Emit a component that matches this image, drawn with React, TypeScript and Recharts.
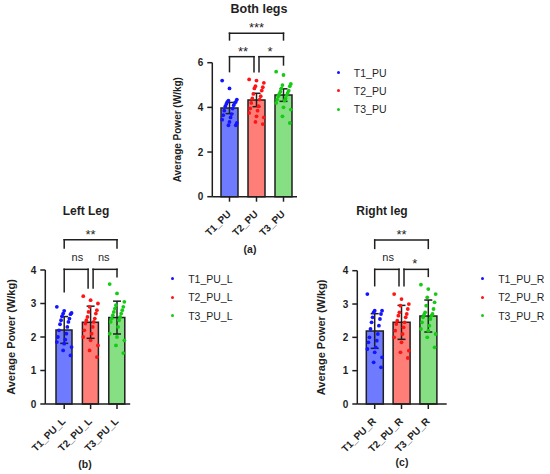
import React from "react";
import { Bar, Cell, ComposedChart, ErrorBar, Legend, ReferenceLine, Scatter, XAxis, YAxis } from "recharts";

const FONT = "'Liberation Sans', Arial, Helvetica, sans-serif";
const INK = "#1f1f1f";
const BAR_FILLS = ["#6e7bff", "#ff7e78", "#86df82"];
const DOT_FILLS = ["#1414ff", "#ff1414", "#14cc14"];

// (a) Both legs
const bothGroups = ["T1_PU", "T2_PU", "T3_PU"];
const bothMean = [3.97, 4.33, 4.55];
const bothErr = [0.25, 0.3, 0.28];
const bothT1 = [5.2, 4.85, 4.35, 4.3, 4.25, 4.25, 4.2, 4.15, 4.1, 4.05, 3.95, 3.85, 3.7, 3.65, 3.55, 3.45, 3.35, 3.3, 3.2, 3.2];
const bothT2 = [5.25, 5.2, 5.1, 4.95, 4.9, 4.85, 4.75, 4.6, 4.5, 4.4, 4.35, 4.2, 4.05, 3.95, 3.85, 3.75, 3.6, 3.55, 3.35, 3.25];
const bothT3 = [5.6, 5.45, 5.05, 5.0, 4.95, 4.85, 4.75, 4.7, 4.65, 4.6, 4.55, 4.5, 4.4, 4.35, 4.3, 4.2, 4.0, 3.9, 3.6, 3.3];
const bothTicks = [0, 2, 4, 6];
const bothSig = [
  { from: "T1_PU", to: "T3_PU", y: 7.32, legs: [7.02, 7.02], text: "***" },
  { from: "T1_PU", to: "T2_PU", y: 6.27, legs: [5.6, 5.6], text: "**" },
  { from: "T2_PU", to: "T3_PU", y: 6.27, legs: [5.6, 5.9], text: "*" },
];

// (b) Left leg
const leftGroups = ["T1_PU_L", "T2_PU_L", "T3_PU_L"];
const leftMean = [2.21, 2.44, 2.58];
const leftErr = [0.4, 0.48, 0.49];
const leftT1 = [2.9, 2.78, 2.72, 2.7, 2.68, 2.62, 2.55, 2.5, 2.45, 2.38, 2.3, 2.2, 2.1, 2.0, 1.92, 1.85, 1.8, 1.7, 1.6, 1.45];
const leftT2 = [3.22, 3.1, 3.0, 2.9, 2.8, 2.75, 2.7, 2.6, 2.55, 2.5, 2.45, 2.4, 2.3, 2.2, 2.1, 2.0, 1.9, 1.75, 1.6, 1.4];
const leftT3 = [3.58, 3.3, 3.05, 2.95, 2.9, 2.85, 2.8, 2.75, 2.7, 2.65, 2.6, 2.55, 2.5, 2.45, 2.3, 2.1, 2.0, 1.9, 1.75, 1.52];
const legTicks = [0, 1, 2, 3, 4];
const leftSig = [
  { from: "T1_PU_L", to: "T3_PU_L", y: 4.9, legs: [4.66, 4.66], text: "**" },
  { from: "T1_PU_L", to: "T2_PU_L", y: 4.02, legs: [3.35, 3.46], text: "ns" },
  { from: "T2_PU_L", to: "T3_PU_L", y: 4.02, legs: [3.46, 3.8], text: "ns" },
];

// (c) Right leg
const rightGroups = ["T1_PU_R", "T2_PU_R", "T3_PU_R"];
const rightMean = [2.19, 2.45, 2.64];
const rightErr = [0.52, 0.51, 0.48];
const rightT1 = [3.3, 2.8, 2.8, 2.75, 2.7, 2.6, 2.55, 2.45, 2.35, 2.25, 2.1, 2.0, 1.9, 1.85, 1.7, 1.65, 1.55, 1.4, 1.25, 1.1];
const rightT2 = [3.3, 3.15, 3.0, 2.95, 2.85, 2.75, 2.7, 2.65, 2.6, 2.5, 2.45, 2.4, 2.3, 2.2, 2.1, 2.0, 1.85, 1.6, 1.55, 1.38];
const rightT3 = [3.58, 3.45, 3.3, 3.2, 3.05, 2.95, 2.85, 2.75, 2.7, 2.68, 2.65, 2.6, 2.55, 2.45, 2.35, 2.25, 2.2, 2.1, 2.0, 1.7];
const rightSig = [
  { from: "T1_PU_R", to: "T3_PU_R", y: 4.92, legs: [4.67, 4.67], text: "**" },
  { from: "T1_PU_R", to: "T2_PU_R", y: 4.04, legs: [3.55, 3.55], text: "ns" },
  { from: "T2_PU_R", to: "T3_PU_R", y: 4.04, legs: [3.55, 3.83], text: "*" },
];

const X_H = 40;

const layoutA = {
  left: 130, top: 0, width: 280, height: 250,
  margin: { top: 62.7, right: 113, bottom: 13.3, left: 32.3 },
  yWidth: 50, pad: { left: 3.7, right: 0 }, barSize: 17,
  labelGap: 35, labelSize: 10,
  legend: { left: 206.8, top: 63.5, row: 18.3 },
};
const layoutB = {
  left: 0, top: 200, width: 240, height: 274,
  margin: { top: 70, right: 109.8, bottom: 30, left: 5.3 },
  yWidth: 40, pad: { left: 5.7, right: 0 }, barSize: 16,
  labelGap: 34, labelSize: 11,
  legend: { left: 171.2, top: 69.7, row: 18.5 },
};
const layoutC = {
  left: 300, top: 200, width: 250, height: 274,
  margin: { top: 70.7, right: 103.3, bottom: 30, left: 17.3 },
  yWidth: 40, pad: { left: 4, right: 5 }, barSize: 17,
  labelGap: 36, labelSize: 11,
  legend: { left: 181.2, top: 69.7, row: 18.5 },
};

const captions = [
  { text: "Both legs", x: 259, y: 9, size: 12.5 },
  { text: "Left Leg", x: 86, y: 211, size: 12 },
  { text: "Right leg", x: 382, y: 211, size: 12 },
  { text: "(a)", x: 250, y: 249, size: 10.5 },
  { text: "(b)", x: 85, y: 464, size: 10.5 },
  { text: "(c)", x: 402, y: 462, size: 10.5 },
];

const jitterDot = (p: any) => {
  const k = p.payload?.k ?? p.index ?? 0;
  const dx = (((k * 7) % 15) - 7) * 1.05;
  return <circle cx={p.cx + dx} cy={p.cy} r={1.9} fill={p.fill} />;
};

const noShape = () => <g />;

const XTick = (p: any) => {
  const ax = p.x + 2;
  const ay = p.y + 11;
  return (
    <text x={ax} y={ay} transform={`rotate(-45 ${ax} ${ay})`} textAnchor="end" fontSize={10} fontWeight={700} fill={INK}>
      {p.payload.value}
    </text>
  );
};

const AxisTitle = ({ px, py, size }: any) => (
  <text x={px} y={py} transform={`rotate(-90 ${px} ${py})`} textAnchor="middle" dominantBaseline="central" fontSize={size} fontWeight={700} fill={INK}>
    Average Power (W/kg)
  </text>
);

const LegendList = ({ payload, row }: any) => (
  <div>
    {(payload || [])
      .filter((e: any) => e.type !== "none")
      .map((e: any) => (
        <div key={e.value} style={{ position: "relative", height: row, width: 70 }}>
          <span style={{ position: "absolute", left: 0, top: row / 2 - 1.5, width: 3, height: 3, borderRadius: "50%", background: e.color }} />
          <span style={{ position: "absolute", left: 17, top: 0, lineHeight: `${row}px`, fontSize: 10.5, color: INK, whiteSpace: "nowrap" }}>
            {e.value}
          </span>
        </div>
      ))}
  </div>
);

function bracket(s: any, groups: string[], n: number) {
  const i = groups.indexOf(s.from);
  const j = groups.indexOf(s.to);
  const adjacent = j - i === 1;
  const inL = adjacent && i > 0 ? 2.5 : 0;
  const inR = adjacent && j < groups.length - 1 ? -2.5 : 0;
  const stars = s.text !== "ns";
  const seg = (key: string, a: any, b: any, sa: number, sb: number, label?: any) => (
    <ReferenceLine
      key={key}
      segment={[a, b]}
      ifOverflow="visible"
      stroke={INK}
      strokeWidth={1.5}
      label={label}
      shape={(p: any) => (
        <line x1={p.x1 + sa} y1={p.y1} x2={p.x2 + sb} y2={p.y2} stroke={INK} strokeWidth={1.5} strokeLinecap="square" />
      )}
    />
  );
  return [
    seg(`h${n}`, { x: s.from, y: s.y }, { x: s.to, y: s.y }, inL, inR, {
      value: s.text,
      position: "top",
      offset: stars ? 1 : 8,
      fontSize: stars ? 13 : 11,
      fill: INK,
    }),
    seg(`l${n}`, { x: s.from, y: s.y }, { x: s.from, y: s.legs[0] }, inL, inL),
    seg(`r${n}`, { x: s.to, y: s.y }, { x: s.to, y: s.legs[1] }, inR, inR),
  ];
}

function Panel({ groups, means, errs, dots, ticks, sig, lay }: any) {
  const bars = groups.map((g: string, i: number) => ({ g, mean: means[i], err: errs[i] }));
  const plotLeft = lay.margin.left + lay.yWidth;
  const plotMidY = lay.margin.top + (lay.height - lay.margin.top - lay.margin.bottom - X_H) / 2;
  const axisStyle = { stroke: INK, strokeWidth: 1.5 };
  return (
    <div style={{ position: "absolute", left: lay.left, top: lay.top }}>
      <ComposedChart width={lay.width} height={lay.height} data={bars} margin={lay.margin}>
        <XAxis
          dataKey="g"
          type="category"
          allowDuplicatedCategory={false}
          padding={lay.pad}
          height={X_H}
          interval={0}
          tickSize={5}
          tick={<XTick />}
          axisLine={axisStyle}
          tickLine={axisStyle}
        />
        <YAxis
          type="number"
          domain={[0, ticks[ticks.length - 1]]}
          ticks={ticks}
          interval={0}
          width={lay.yWidth}
          tickSize={5}
          tickMargin={4}
          tick={{ fill: INK, fontSize: 10, fontWeight: 700 }}
          axisLine={axisStyle}
          tickLine={axisStyle}
          label={<AxisTitle px={plotLeft - lay.labelGap} py={plotMidY} size={lay.labelSize} />}
        />
        <Bar dataKey="mean" barSize={lay.barSize} stroke={INK} strokeWidth={1.5} legendType="none" isAnimationActive={false}>
          {bars.map((b: any, i: number) => (
            <Cell key={b.g} fill={BAR_FILLS[i]} />
          ))}
        </Bar>
        {groups.map((g: string, i: number) => (
          <Scatter
            key={g}
            name={g}
            data={dots[i].map((v: number, k: number) => ({ g, v, k }))}
            dataKey="v"
            fill={DOT_FILLS[i]}
            shape={jitterDot}
            isAnimationActive={false}
          />
        ))}
        <Scatter data={bars} dataKey="mean" legendType="none" shape={noShape} isAnimationActive={false}>
          <ErrorBar dataKey="err" direction="y" width={4} stroke={INK} strokeWidth={1.5} />
        </Scatter>
        {sig.flatMap((s: any, n: number) => bracket(s, groups, n))}
        <Legend
          layout="vertical"
          align="center"
          verticalAlign="middle"
          wrapperStyle={{ left: lay.legend.left, top: lay.legend.top, width: "auto", height: "auto" }}
          content={(p: any) => <LegendList payload={p.payload} row={lay.legend.row} />}
        />
      </ComposedChart>
    </div>
  );
}

export default function App() {
  return (
    <div style={{ position: "absolute", left: 0, top: 0, width: 550, height: 474, background: "#fff", fontFamily: FONT, overflow: "hidden" }}>
      <Panel groups={bothGroups} means={bothMean} errs={bothErr} dots={[bothT1, bothT2, bothT3]} ticks={bothTicks} sig={bothSig} lay={layoutA} />
      <Panel groups={leftGroups} means={leftMean} errs={leftErr} dots={[leftT1, leftT2, leftT3]} ticks={legTicks} sig={leftSig} lay={layoutB} />
      <Panel groups={rightGroups} means={rightMean} errs={rightErr} dots={[rightT1, rightT2, rightT3]} ticks={legTicks} sig={rightSig} lay={layoutC} />
      {captions.map((c) => (
        <div
          key={c.text}
          style={{
            position: "absolute",
            left: c.x - 60,
            top: c.y - 10,
            width: 120,
            lineHeight: "20px",
            textAlign: "center",
            fontSize: c.size,
            fontWeight: 700,
            color: INK,
          }}
        >
          {c.text}
        </div>
      ))}
    </div>
  );
}
